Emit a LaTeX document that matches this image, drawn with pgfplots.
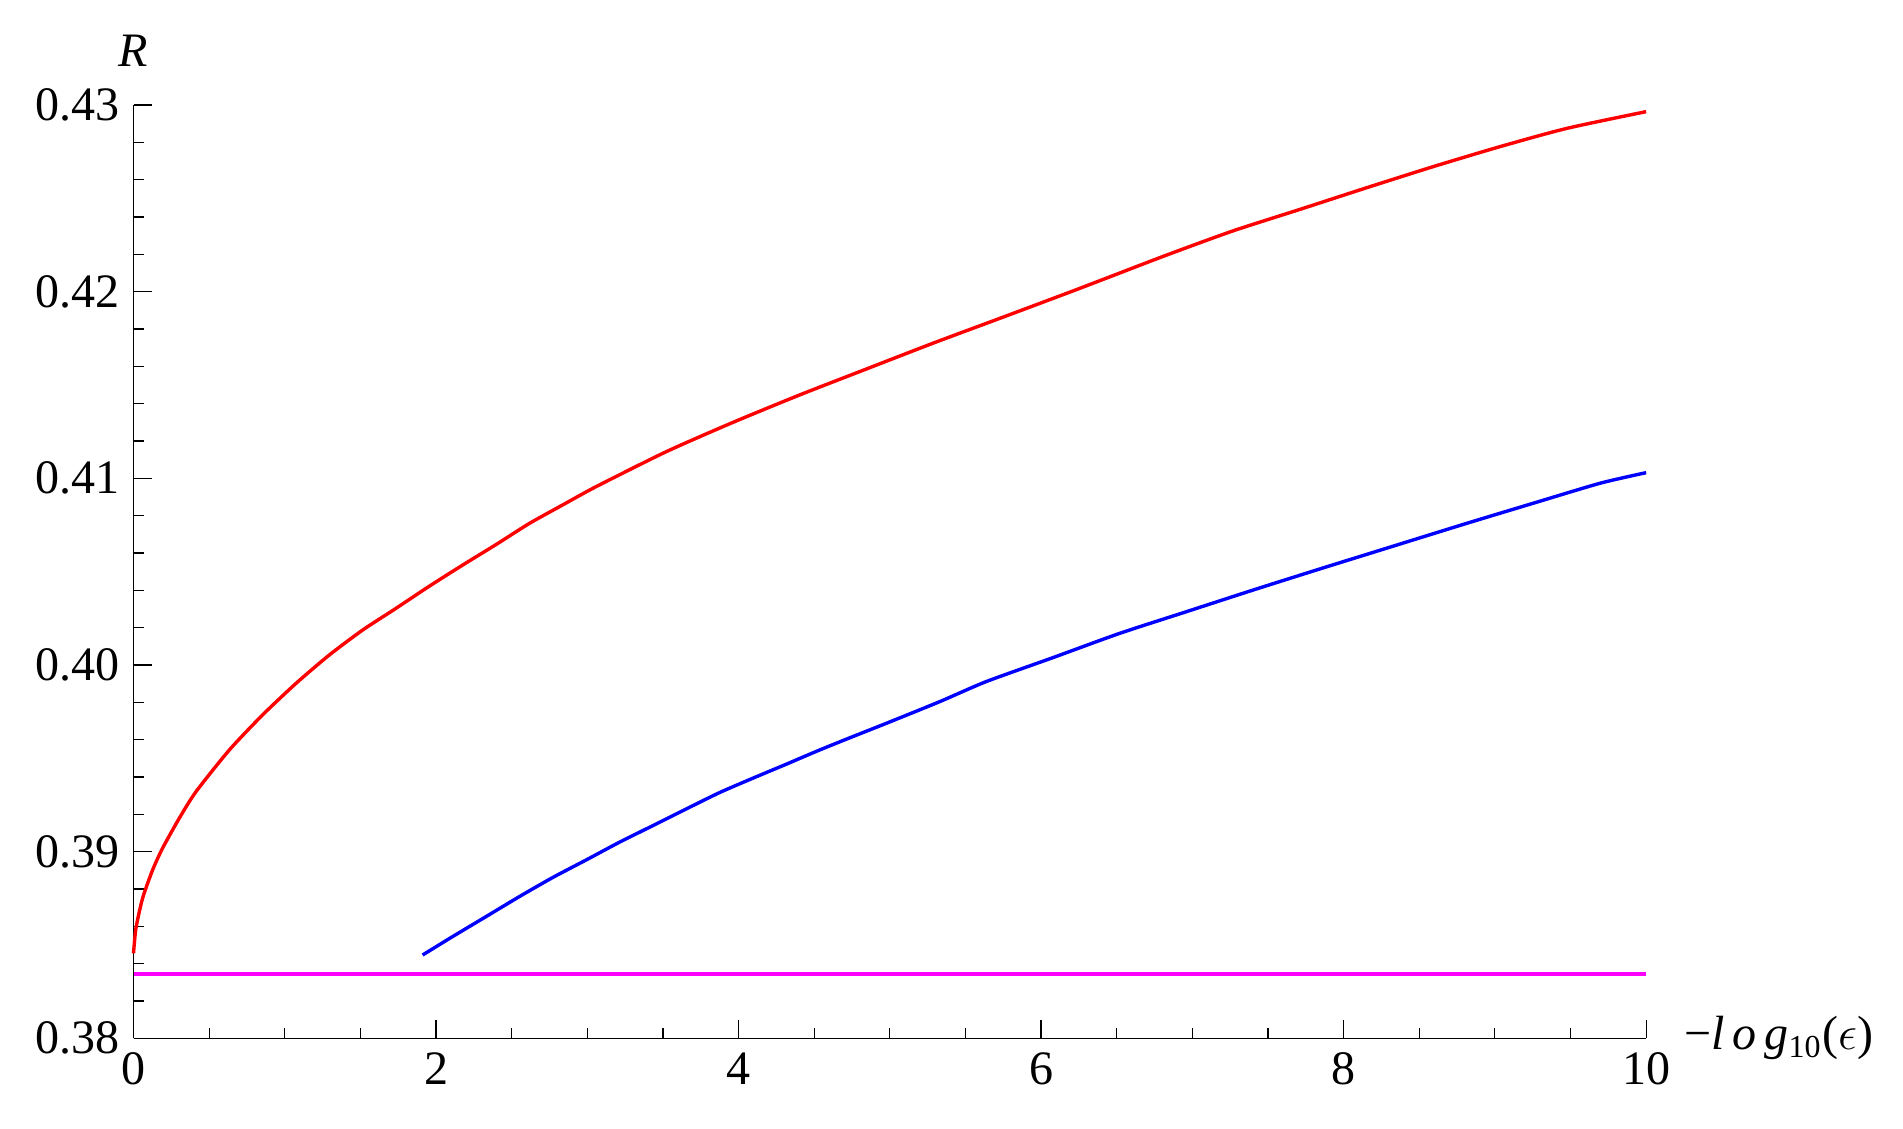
\documentclass[border={5.5pt 7.5pt 4pt 5.5pt}]{standalone}
\usepackage{fontspec}
\setmainfont{Liberation Serif}
\usepackage{pgfplots}
\pgfplotsset{compat=1.18}
\definecolor{mmagenta}{rgb}{1,0,1}
\definecolor{mred}{rgb}{1,0,0}
\definecolor{mblue}{rgb}{0,0,1}
\begin{document}
\begin{tikzpicture}
\begin{axis}[
  scale only axis,
  width=378pt, height=233.25pt,
  xmin=0, xmax=10, ymin=0.38, ymax=0.43,
  axis x line=bottom, axis y line=left,
  axis line style={-, line width=0.3pt},
  tick align=inside,
  xtick={0,2,4,6,8,10},
  ytick={0.38,0.39,0.40,0.41,0.42,0.43},
  minor x tick num=3, minor y tick num=4,
  major tick length=4.5pt, minor tick length=2.5pt,
  tick style={black, line width=0.3pt},
  tick label style={font=\fontsize{12}{14}\selectfont},
  label style={font=\fontsize{12}{14}\selectfont},
  /pgf/number format/assume math mode=true,
  yticklabel style={/pgf/number format/.cd, fixed, fixed zerofill, precision=2},
  scaled y ticks=false,
  xlabel={−\textit{l}\,\textit{o}\,\textit{g}\textsubscript{10}(\ensuremath{\epsilon})},
  xlabel style={at={(axis description cs:1,0)}, anchor=west, xshift=6pt},
  ylabel={\textit{R}},
  ylabel style={at={(axis description cs:0,1)}, anchor=south, rotate=-90, yshift=6pt},
  clip=false,
]
% magenta reference level
\addplot[color=mmagenta, line width=1pt] coordinates {(0,0.38343)(10,0.38343)};
% blue branch
\addplot[color=mblue, line width=0.85pt, smooth, tension=0.4] coordinates {
  (1.911,0.38446)(2.110,0.38545)(2.331,0.38652)(2.551,0.38759)(2.771,0.38861)
  (2.992,0.38955)(3.212,0.39050)(3.433,0.39139)(3.653,0.39228)(3.874,0.39316)
  (4.094,0.39393)(4.315,0.39468)(4.535,0.39544)(4.755,0.39616)(4.976,0.39687)
  (5.329,0.39803)(5.638,0.39911)(6.078,0.40039)(6.519,0.40169)(6.960,0.40285)
  (7.401,0.40401)(7.842,0.40514)(8.283,0.40625)(8.812,0.40758)(9.253,0.40866)
  (9.694,0.40973)(10,0.41030)
};
% red branch
\addplot[color=mred, line width=0.85pt, smooth, tension=0.4] coordinates {
  (0,0.38455)(0.016,0.38589)(0.060,0.38750)(0.126,0.38901)(0.192,0.39018)
  (0.302,0.39178)(0.413,0.39321)(0.633,0.39544)(0.853,0.39732)(1.074,0.39901)
  (1.294,0.40053)(1.515,0.40187)(1.735,0.40303)(1.956,0.40422)(2.176,0.40535)
  (2.397,0.40645)(2.617,0.40758)(2.837,0.40857)(3.058,0.40955)(3.521,0.41142)
  (3.962,0.41299)(4.403,0.41446)(4.844,0.41585)(5.284,0.41723)(5.725,0.41856)
  (6.167,0.41990)(6.387,0.42058)(6.828,0.42195)(7.268,0.42325)(7.710,0.42440)
  (8.151,0.42556)(8.591,0.42669)(9.032,0.42776)(9.474,0.42874)(10,0.42964)
};
\end{axis}
\end{tikzpicture}
\end{document}
